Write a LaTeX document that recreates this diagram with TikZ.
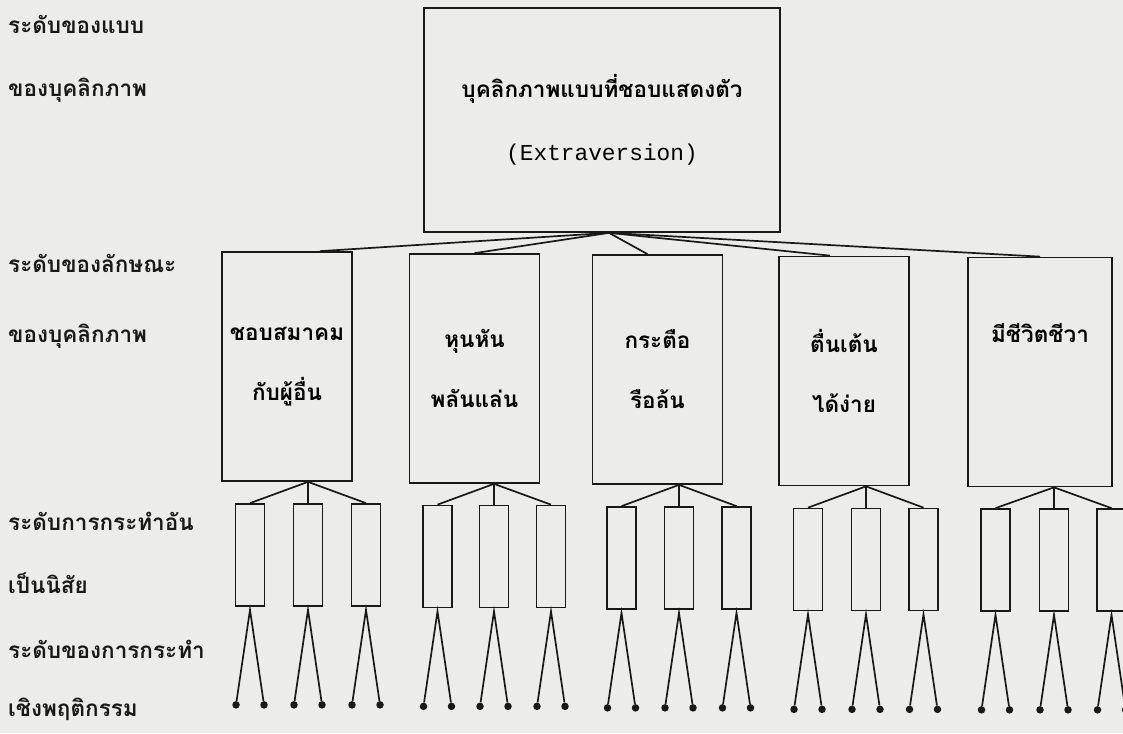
\documentclass[tikz,border=0pt]{standalone}
\usepackage{fontspec}
\usetikzlibrary{calc}
\newfontfamily\thaifont[Script=Thai]{Loma}
\newfontfamily\monofont{Liberation Mono}
\definecolor{paper}{RGB}{236,236,234}
\definecolor{ink}{RGB}{25,25,25}
\tikzset{
  base/.style={draw=ink, line width=1.7pt, inner sep=0pt},
  bigbox/.style={base, minimum width=356pt, minimum height=224pt, align=center,
    font={\thaifont\bfseries\fontsize{22.5}{63}\selectfont}},
  traitbox/.style={base, minimum width=130pt, minimum height=229pt, align=center,
    font={\thaifont\bfseries\fontsize{22.5}{60}\selectfont}},
  habit/.style={base, minimum width=29pt, minimum height=102pt},
  dot/.style={circle, fill=ink, inner sep=0pt, minimum size=7.5pt},
  lvl/.style={anchor=base west, inner sep=0pt, text=ink, font={\thaifont\bfseries\fontsize{22.5}{26}\selectfont}},
  conn/.style={draw=ink, line width=1.7pt}
}
\begin{document}
\begin{tikzpicture}[x=1pt,y=-1pt]
\fill[paper] (0,0) rectangle (1123,733);
\useasboundingbox (0,0) rectangle (1123,733);

% level labels
\node[lvl] (L1) at (8,34) {ระดับของแบบ};
\node[lvl] (L2) at (8,96) {ของบุคลิกภาพ};
\node[lvl] (L3) at (8,272) {ระดับของลักษณะ};
\node[lvl] (L4) at (8,342) {ของบุคลิกภาพ};
\node[lvl] (L5) at (8,530) {ระดับการกระทำอัน};
\node[lvl] (L6) at (8,593) {เป็นนิสัย};
\node[lvl] (L7) at (8,658) {ระดับของการกระทำ};
\node[lvl] (L8) at (8,716) {เชิงพฤติกรรม};

% type level
\node[bigbox] (top) at (602,120) {บุคลิกภาพแบบที่ชอบแสดงตัว\\{\monofont\mdseries\fontsize{22.8}{63}\selectfont (Extraversion)}};

% trait level
\node[traitbox] (t1) at (287,366.5) {ชอบสมาคม\\กับผู้อื่น};
\node[traitbox] (t2) at (474.5,368.5) {หุนหัน\\พลันแล่น};
\node[traitbox] (t3) at (657.5,369.5) {กระตือ\\รือล้น};
\node[traitbox] (t4) at (844,371) {ตื่นเต้น\\ได้ง่าย};
\node[traitbox, minimum width=144pt] (t5) at (1040,372) {มีชีวิตชีวา\\\strut};

\coordinate (j0) at ([xshift=7pt]top.south);
\draw[conn] (j0) -- ([xshift=33pt]t1.north);
\draw[conn] (j0) -- (t2.north);
\draw[conn] (j0) -- ([xshift=-10pt]t3.north);
\draw[conn] (j0) -- ([xshift=-14pt]t4.north);
\draw[conn] (j0) -- (t5.north);

% habitual and specific levels
\foreach \g/\xa/\xb/\xc/\yc in {1/250/308/366/555, 2/437.5/494/551/556.5, 3/621.5/679/736.5/558, 4/808/866/923.5/559.5, 5/995.5/1054/1111.5/560}{
  \node[habit] (h\g1) at (\xa,\yc) {};
  \node[habit] (h\g2) at (\xb,\yc) {};
  \node[habit] (h\g3) at (\xc,\yc) {};
  \coordinate (j\g) at (h\g2.north |- t\g.south);
  \draw[conn] (j\g) -- (h\g1.north);
  \draw[conn] (j\g) -- (h\g2.north);
  \draw[conn] (j\g) -- (h\g3.north);
  \foreach \k in {1,2,3}{
    \node[dot] (d\g\k a) at ($(h\g\k.south)+(-14,98)$) {};
    \node[dot] (d\g\k b) at ($(h\g\k.south)+(14,98)$) {};
    \draw[conn] (d\g\k a) -- ([yshift=-3pt]h\g\k.south) -- (d\g\k b);
  }
}
\end{tikzpicture}
\end{document}
